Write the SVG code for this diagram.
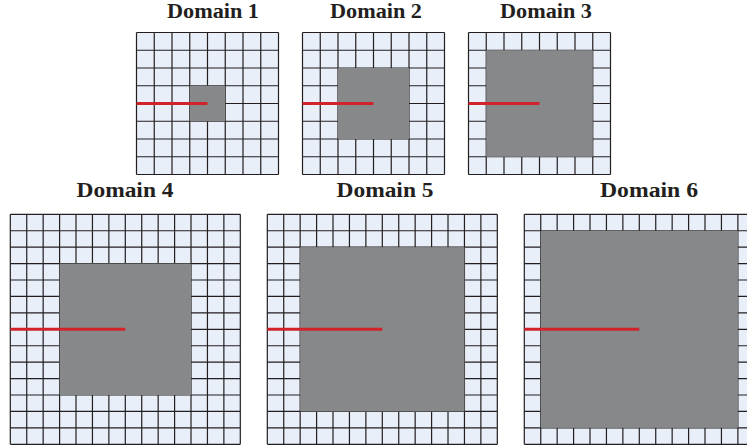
<svg xmlns="http://www.w3.org/2000/svg" xmlns:xlink="http://www.w3.org/1999/xlink" width="747" height="448" viewBox="0 0 747 448">
<style>
.cells{fill:#e8eff8}
.lines{fill:none;stroke:#231f20;stroke-width:1.2}
.core{fill:#87888a}
.crack{stroke:#d2232a;stroke-width:3;fill:none}
.title{font-family:"Liberation Serif","Times New Roman",serif;font-weight:bold;font-size:20px;fill:#231f20;text-anchor:middle}
</style>
<defs>
<g id="smallgrid">
<rect class="cells" x="0" y="0" width="142" height="142"/>
<path class="lines" d="M0 0V142M17.75 0V142M35.5 0V142M53.25 0V142M71 0V142M88.75 0V142M106.5 0V142M124.25 0V142M142 0V142M0 0H142M0 17.75H142M0 35.5H142M0 53.25H142M0 71H142M0 88.75H142M0 106.5H142M0 124.25H142M0 142H142"/>
</g>
<g id="largegrid">
<rect class="cells" x="0" y="0" width="230" height="230"/>
<path class="lines" d="M0 0V230M16.43 0V230M32.86 0V230M49.29 0V230M65.71 0V230M82.14 0V230M98.57 0V230M115 0V230M131.43 0V230M147.86 0V230M164.29 0V230M180.71 0V230M197.14 0V230M213.57 0V230M230 0V230M0 0H230M0 16.43H230M0 32.86H230M0 49.29H230M0 65.71H230M0 82.14H230M0 98.57H230M0 115H230M0 131.43H230M0 147.86H230M0 164.29H230M0 180.71H230M0 197.14H230M0 213.57H230M0 230H230"/>
</g>
</defs>
<g id="domain1">
<text class="title" x="213" y="18" textLength="92" lengthAdjust="spacingAndGlyphs">Domain 1</text>
<g transform="translate(136.5,32.5)">
<use xlink:href="#smallgrid" href="#smallgrid"/>
<rect class="core" x="53.25" y="53.25" width="35.5" height="35.5"/>
<path class="crack" d="M0 71H71"/>
</g>
</g>
<g id="domain2">
<text class="title" x="376" y="18" textLength="92" lengthAdjust="spacingAndGlyphs">Domain 2</text>
<g transform="translate(302.5,32.5)">
<use xlink:href="#smallgrid" href="#smallgrid"/>
<rect class="core" x="35.5" y="35.5" width="71" height="71"/>
<path class="crack" d="M0 71H71"/>
</g>
</g>
<g id="domain3">
<text class="title" x="546" y="18" textLength="92" lengthAdjust="spacingAndGlyphs">Domain 3</text>
<g transform="translate(468.5,32.5)">
<use xlink:href="#smallgrid" href="#smallgrid"/>
<rect class="core" x="17.75" y="17.75" width="106.5" height="106.5"/>
<path class="crack" d="M0 71H71"/>
</g>
</g>
<g id="domain4">
<text class="title" x="125" y="197" textLength="97" lengthAdjust="spacingAndGlyphs">Domain 4</text>
<g transform="translate(10.3,214.3)">
<use xlink:href="#largegrid" href="#largegrid"/>
<rect class="core" x="49.29" y="49.29" width="131.43" height="131.43"/>
<path class="crack" d="M0 115H115"/>
</g>
</g>
<g id="domain5">
<text class="title" x="385" y="197" textLength="97" lengthAdjust="spacingAndGlyphs">Domain 5</text>
<g transform="translate(267.3,214.3)">
<use xlink:href="#largegrid" href="#largegrid"/>
<rect class="core" x="32.86" y="32.86" width="164.29" height="164.29"/>
<path class="crack" d="M0 115H115"/>
</g>
</g>
<g id="domain6">
<text class="title" x="649" y="197" textLength="98" lengthAdjust="spacingAndGlyphs">Domain 6</text>
<g transform="translate(524.3,214.3)">
<use xlink:href="#largegrid" href="#largegrid"/>
<rect class="core" x="16.43" y="16.43" width="197.14" height="197.14"/>
<path class="crack" d="M0 115H115"/>
</g>
</g>
<g id="connectors"/>
</svg>
